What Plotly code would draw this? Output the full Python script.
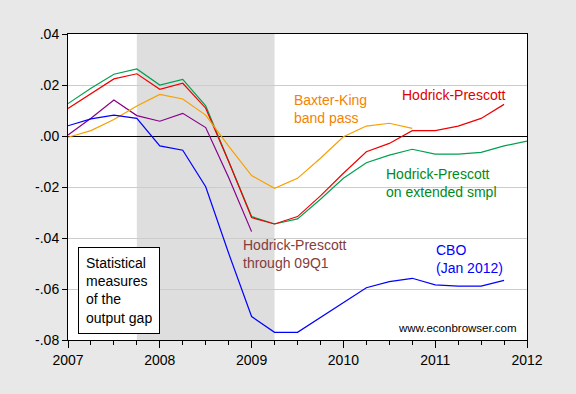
import plotly.graph_objects as go

quarters = ["2007Q1", "2007Q2", "2007Q3", "2007Q4", "2008Q1", "2008Q2", "2008Q3", "2008Q4",
            "2009Q1", "2009Q2", "2009Q3", "2009Q4", "2010Q1", "2010Q2", "2010Q3", "2010Q4",
            "2011Q1", "2011Q2", "2011Q3", "2011Q4", "2012Q1"]

hp = [0.0108, 0.0165, 0.0224, 0.0244, 0.0183, 0.0207, 0.0109, -0.0100, -0.0320, -0.0345,
      -0.0316, -0.0235, -0.0146, -0.0062, -0.0029, 0.0021, 0.0021, 0.0039, 0.0069, 0.0124]
hp_ext = [0.0127, 0.0187, 0.0242, 0.0263, 0.0200, 0.0222, 0.0118, -0.0098, -0.0316, -0.0345,
          -0.0325, -0.0248, -0.0166, -0.0105, -0.0075, -0.0052, -0.0071, -0.0071, -0.0064,
          -0.0039, -0.0020]
bk = [-0.0005, 0.0021, 0.0065, 0.0118, 0.0163, 0.0145, 0.0082, -0.0040, -0.0155, -0.0205,
      -0.0166, -0.0087, -0.0003, 0.0039, 0.0050, 0.0030]
hp_09q1 = [0.0004, 0.0070, 0.0141, 0.0080, 0.0058, 0.0089, 0.0033, -0.0163, -0.0375]
cbo = [0.0040, 0.0067, 0.0082, 0.0069, -0.0039, -0.0056, -0.0199, -0.0460, -0.0708, -0.0770,
       -0.0770, -0.0712, -0.0653, -0.0595, -0.0571, -0.0558, -0.0584, -0.0589, -0.0589, -0.0566]

recession = ["2007Q4", "2009Q2"]

y_tickvals = [0.04, 0.02, 0.0, -0.02, -0.04, -0.06, -0.08]
y_ticktext = [".04", ".02", ".00", "-.02", "-.04", "-.06", "-.08"]
x_tickvals = [2007, 2008, 2009, 2010, 2011, 2012]
x_ticktext = ["2007", "2008", "2009", "2010", "2011", "2012"]


def qnum(q):
    return int(q[:4]) + (int(q[5]) - 1) / 4.0


xq = [qnum(q) for q in quarters]

FONT = "Liberation Sans, Arial, sans-serif"

fig = go.Figure()
series = [
    (hp_ext, "#00A050"),
    (hp, "#F00000"),
    (hp_09q1, "#880088"),
    (bk, "#F7A000"),
    (cbo, "#0000FF"),
]
for vals, col in series:
    fig.add_trace(go.Scatter(x=xq[:len(vals)], y=vals, mode="lines",
                             line=dict(color=col, width=1.2), showlegend=False,
                             hoverinfo="skip"))

fig.add_shape(type="rect", xref="x", yref="paper", x0=qnum(recession[0]), x1=qnum(recession[1]),
              y0=0, y1=1, fillcolor="#DEDEDE", line=dict(width=0), layer="below")

annots = [
    dict(x=2009.44, y=0.0104, text="Baxter-King<br>band pass", color="#F58200"),
    dict(x=2010.613, y=0.0161, text="Hodrick-Prescott", color="#E00000"),
    dict(x=2010.439, y=-0.0184, text="Hodrick-Prescott<br>on extended smpl", color="#008A20"),
    dict(x=2008.882, y=-0.0461, text="Hodrick-Prescott<br>through 09Q1", color="#843C3C"),
    dict(x=2010.986, y=-0.0484, text="CBO<br>(Jan 2012)", color="#0000FF"),
]
for a in annots:
    fig.add_annotation(x=a["x"], y=a["y"], xref="x", yref="y", text=a["text"], showarrow=False,
                       xanchor="left", yanchor="middle", align="left",
                       font=dict(family=FONT, size=14, color=a["color"]))

fig.add_annotation(x=2012 - 0.09, y=-0.0753, xref="x", yref="y", text="www.econbrowser.com",
                   showarrow=False, xanchor="right", yanchor="middle",
                   font=dict(family=FONT, size=11.5, color="black"))

fig.add_annotation(x=2007.109, y=-0.0436, xref="x", yref="y",
                   text="Statistical<br>measures<br>of the<br>output gap",
                   showarrow=False, xanchor="left", yanchor="top", align="left",
                   bgcolor="white", bordercolor="black", borderwidth=1, borderpad=7,
                   font=dict(family=FONT, size=14, color="black"))

fig.update_layout(
    width=576, height=394,
    margin=dict(l=68, r=48.5, t=34, b=54),
    paper_bgcolor="#E8E8E8", plot_bgcolor="white",
    font=dict(family=FONT, size=14, color="black"),
    xaxis=dict(range=[2007, 2012], tickvals=x_tickvals, ticktext=x_ticktext,
               showgrid=False, zeroline=False, showline=True, linecolor="black", linewidth=1,
               mirror=True, ticks="outside", ticklen=7, tickcolor="black",
               minor=dict(dtick=0.25, tick0=2007, ticks="outside", ticklen=4, tickcolor="black",
                          showgrid=False),
               tickfont=dict(size=14)),
    yaxis=dict(range=[-0.08, 0.04], tickvals=y_tickvals, ticktext=y_ticktext,
               showgrid=True, gridcolor="#CCCCCC", gridwidth=1,
               zeroline=True, zerolinecolor="black", zerolinewidth=1,
               showline=True, linecolor="black", linewidth=1, mirror=True,
               ticks="outside", ticklen=5, tickcolor="black", tickfont=dict(size=14)),
)

fig.write_html("out.html", config={"displayModeBar": False},
               post_script="document.body.style.margin='0';document.body.style.padding='0';")
